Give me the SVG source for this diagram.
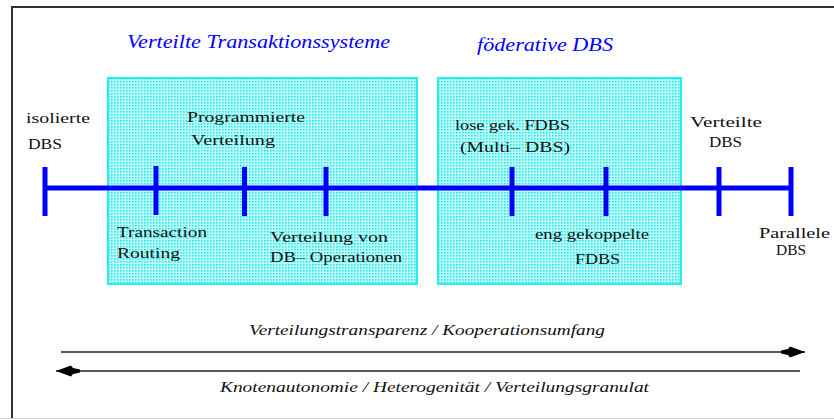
<svg xmlns="http://www.w3.org/2000/svg" width="834" height="419" viewBox="0 0 834 419" font-family="Liberation Serif, DejaVu Serif, serif">
  <defs>
    <pattern id="dots" width="3" height="3" patternUnits="userSpaceOnUse">
      <rect width="3" height="3" fill="#c4ffff"/>
      <rect x="0" y="0" width="1.6" height="1.6" fill="#22e8e8"/>
    </pattern>
    <marker id="head" viewBox="0 0 24 12" refX="24" refY="6" markerWidth="24" markerHeight="12" markerUnits="userSpaceOnUse" orient="auto-start-reverse">
      <path d="M0,4.5 L7,3 L9,0.5 L24,6 L9,11.5 L7,9 L0,7.5 Z" fill="#000"/>
    </marker>
    <style>
      .lbl { font-size: 15px; fill: #111; }
      .title { font-size: 18px; font-style: italic; fill: #0000ff; }
      .axis { font-size: 15px; font-style: italic; fill: #111; }
      .box { fill: url(#dots); stroke: #22f0f0; stroke-width: 2; }
      .bar { stroke: #0000ff; stroke-width: 5; fill: none; }
      .arr { stroke: #222; stroke-width: 1.6; fill: none; }
    </style>
  </defs>
  <rect width="834" height="419" fill="#fff"/>
  <!-- frame -->
  <path d="M12,419 V7 H834" fill="none" stroke="#333" stroke-width="2"/>
  <line x1="0" y1="418.5" x2="834" y2="418.5" stroke="#ccc" stroke-width="1"/>

  <g id="verteilte-transaktionssysteme">
    <rect class="box" x="108" y="78" width="309" height="206"/>
    <text class="title" font-family="Liberation Serif, serif" x="127" y="48" textLength="263" lengthAdjust="spacingAndGlyphs">Verteilte Transaktionssysteme</text>
  </g>
  <g id="foederative-dbs">
    <rect class="box" x="438" y="78" width="243" height="206"/>
    <text class="title" font-family="Liberation Serif, serif" x="477" y="51" textLength="136" lengthAdjust="spacingAndGlyphs">föderative DBS</text>
  </g>

  <g id="connectors">
    <line class="bar" x1="45" y1="188" x2="791" y2="188"/>
    <line class="bar" x1="45" y1="167" x2="45" y2="216"/>
    <line class="bar" x1="156" y1="166" x2="156" y2="215"/>
    <line class="bar" x1="244.5" y1="167" x2="244.5" y2="216"/>
    <line class="bar" x1="326" y1="167" x2="326" y2="216"/>
    <line class="bar" x1="512" y1="167" x2="512" y2="216"/>
    <line class="bar" x1="606" y1="167" x2="606" y2="216"/>
    <line class="bar" x1="719" y1="167" x2="719" y2="216"/>
    <line class="bar" x1="791" y1="167" x2="791" y2="216"/>
    <line class="arr" x1="61" y1="352" x2="805" y2="352" marker-end="url(#head)"/>
    <line class="arr" x1="800" y1="371" x2="56" y2="371" marker-end="url(#head)"/>
  </g>

  <g id="isolierte-dbs" font-family="Liberation Serif, serif">
    <text class="lbl" x="26" y="123" textLength="64" lengthAdjust="spacingAndGlyphs">isolierte</text>
    <text class="lbl" x="28" y="149" textLength="34" lengthAdjust="spacingAndGlyphs">DBS</text>
  </g>
  <g id="programmierte-verteilung" font-family="Liberation Serif, serif">
    <text class="lbl" x="187" y="122" textLength="118" lengthAdjust="spacingAndGlyphs">Programmierte</text>
    <text class="lbl" x="191" y="145" textLength="84" lengthAdjust="spacingAndGlyphs">Verteilung</text>
  </g>
  <g id="transaction-routing" font-family="Liberation Serif, serif">
    <text class="lbl" x="117" y="237" textLength="90" lengthAdjust="spacingAndGlyphs">Transaction</text>
    <text class="lbl" x="117" y="258" textLength="63" lengthAdjust="spacingAndGlyphs">Routing</text>
  </g>
  <g id="verteilung-db-operationen" font-family="Liberation Serif, serif">
    <text class="lbl" x="270" y="242" textLength="118" lengthAdjust="spacingAndGlyphs">Verteilung von</text>
    <text class="lbl" x="270" y="262" textLength="132" lengthAdjust="spacingAndGlyphs">DB– Operationen</text>
  </g>
  <g id="lose-fdbs" font-family="Liberation Serif, serif">
    <text class="lbl" x="455" y="130" textLength="115" lengthAdjust="spacingAndGlyphs">lose gek. FDBS</text>
    <text class="lbl" x="460" y="152" textLength="110" lengthAdjust="spacingAndGlyphs">(Multi– DBS)</text>
  </g>
  <g id="eng-fdbs" font-family="Liberation Serif, serif">
    <text class="lbl" x="535" y="239" textLength="114" lengthAdjust="spacingAndGlyphs">eng gekoppelte</text>
    <text class="lbl" x="575" y="264" textLength="45" lengthAdjust="spacingAndGlyphs">FDBS</text>
  </g>
  <g id="verteilte-dbs" font-family="Liberation Serif, serif">
    <text class="lbl" x="690" y="127" textLength="72" lengthAdjust="spacingAndGlyphs">Verteilte</text>
    <text class="lbl" x="709" y="147" textLength="33" lengthAdjust="spacingAndGlyphs">DBS</text>
  </g>
  <g id="parallele-dbs" font-family="Liberation Serif, serif">
    <text class="lbl" x="759" y="238" textLength="71" lengthAdjust="spacingAndGlyphs">Parallele</text>
    <text class="lbl" x="776" y="255" textLength="30" lengthAdjust="spacingAndGlyphs">DBS</text>
  </g>
  <g id="axis-labels" font-family="Liberation Serif, serif">
    <text class="axis" x="249" y="335" textLength="356" lengthAdjust="spacingAndGlyphs">Verteilungstransparenz / Kooperationsumfang</text>
    <text class="axis" x="220" y="392" textLength="429" lengthAdjust="spacingAndGlyphs">Knotenautonomie / Heterogenität / Verteilungsgranulat</text>
  </g>
</svg>
